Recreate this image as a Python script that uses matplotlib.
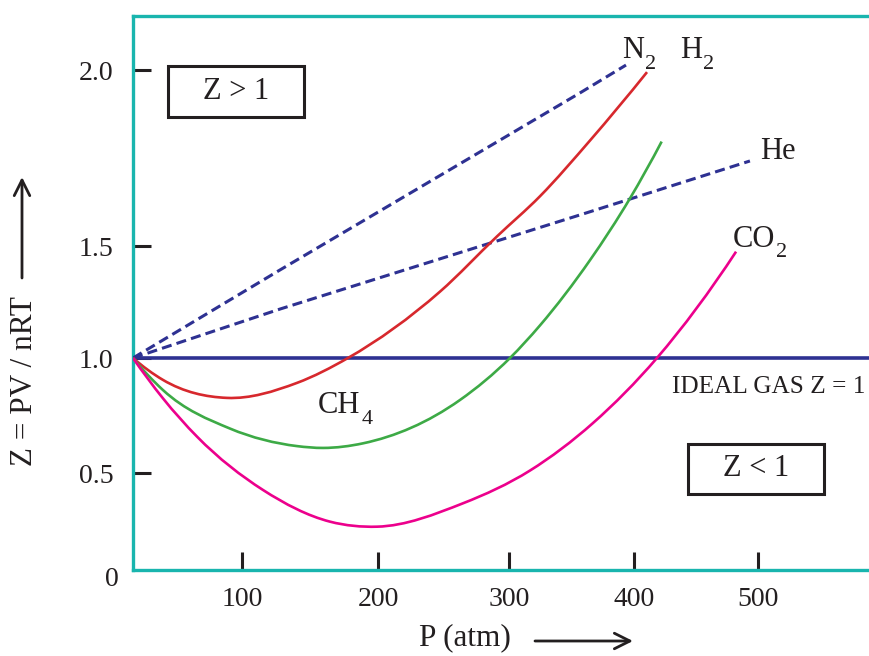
import numpy as np
import matplotlib
matplotlib.use("Agg")
import matplotlib.pyplot as plt
from matplotlib.patches import Rectangle, PathPatch
from matplotlib.path import Path

plt.rcParams['font.family'] = ['Liberation Serif', 'DejaVu Serif']

# ---------------- data ----------------
n2_p = [20, 127.9, 356.8, 393.6]
n2_z = [1.0, 1.394, 1.935, 2.014]

he_p = [20, 127.9, 356.8, 493.5]
he_z = [1.0, 1.219, 1.589, 1.742]

h2_p = [20, 42.0, 89.0, 140.4, 177.9, 247.3, 290.8, 324.8, 364.8, 410.5]
h2_z = [1.0, 0.905, 0.827, 0.892, 1.0, 1.297, 1.528, 1.642, 1.800, 1.994]

ch4_p = [20, 42.0, 91.2, 140.4, 159.6, 189.0, 262.6, 300.8, 324.8, 364.8, 396.8, 422.3]
ch4_z = [1.0, 0.861, 0.694, 0.618, 0.610, 0.630, 0.818, 1.0, 1.146, 1.438, 1.636, 1.797]

co2_p = [20, 42.0, 67.0, 115.4, 164.7, 199.3, 264.9, 316.8, 367.2, 418.5, 482.3]
co2_z = [1.0, 0.825, 0.659, 0.414, 0.250, 0.224, 0.345, 0.512, 0.718, 1.0, 1.476]

ideal_z = 1.0

x_ticks = [100, 200, 300, 400, 500]
x_tick_labels = ['100', '200', '300', '400', '500']
y_ticks = [0.5, 1.0, 1.5, 2.0]
y_tick_labels = ['0.5', '1.0', '1.5', '2.0']

# ---------------- schematic (non-uniform) axis scales ----------------
P_KNOTS = [20, 100, 200, 300, 400, 500, 589.5]
P_POS = [133, 242, 378, 509, 634, 758, 869]
Z_KNOTS = [0, 0.5, 1.0, 1.5, 2.0, 2.1546]
Z_POS = [0, 96.7, 212, 323.7, 500, 554.5]

def fwd_x(v):
    return np.interp(v, P_KNOTS, P_POS)
def inv_x(v):
    return np.interp(v, P_POS, P_KNOTS)
def fwd_y(v):
    return np.interp(v, Z_KNOTS, Z_POS)
def inv_y(v):
    return np.interp(v, Z_POS, Z_KNOTS)

W, H = 869, 656
fig = plt.figure(figsize=(W / 100, H / 100), dpi=100)
ax = fig.add_axes([133 / W, 1 - 570 / H, (869 - 133) / W, (570 - 15.5) / H])
ax.set_xscale('function', functions=(fwd_x, inv_x))
ax.set_yscale('function', functions=(fwd_y, inv_y))
ax.set_xlim(P_KNOTS[0], P_KNOTS[-1])
ax.set_ylim(Z_KNOTS[0], Z_KNOTS[-1])

TEAL = '#19B5AE'
NAVY = '#2E3192'
INK = '#231F20'

for s in ['left', 'top', 'bottom']:
    ax.spines[s].set_color(TEAL)
    ax.spines[s].set_linewidth(2.4)
ax.spines['right'].set_visible(False)

ax.set_xticks(x_ticks)
ax.set_xticklabels(x_tick_labels)
ax.set_yticks(y_ticks)
ax.set_yticklabels(y_tick_labels)
ax.minorticks_off()
ax.tick_params(axis='both', direction='in', length=13, width=2.2, color=INK,
               labelsize=20, labelcolor=INK)
ax.tick_params(axis='y', pad=14)
ax.tick_params(axis='x', pad=12)


def smooth_curve(p, z, color, lw):
    """Smooth cubic-Hermite rendering through the read points, drawn as a Bezier path."""
    X = fwd_x(np.asarray(p, float))
    Y = fwd_y(np.asarray(z, float))
    h = np.diff(X)
    d = np.diff(Y) / h
    n = len(X)
    m = np.empty(n)
    for i in range(1, n - 1):
        m[i] = (h[i] * d[i - 1] + h[i - 1] * d[i]) / (h[i - 1] + h[i])
    m[0] = d[0] + (d[0] - d[1]) * h[0] / (h[0] + h[1])
    m[-1] = d[-1] + (d[-1] - d[-2]) * h[-1] / (h[-1] + h[-2])
    verts = [(X[0], Y[0])]
    codes = [Path.MOVETO]
    for i in range(n - 1):
        verts += [(X[i] + h[i] / 3, Y[i] + m[i] * h[i] / 3),
                  (X[i + 1] - h[i] / 3, Y[i + 1] - m[i + 1] * h[i] / 3),
                  (X[i + 1], Y[i + 1])]
        codes += [Path.CURVE4] * 3
    verts = np.array(verts)
    data = np.column_stack([inv_x(verts[:, 0]), inv_y(verts[:, 1])])
    ax.add_patch(PathPatch(Path(data, codes), fill=False, edgecolor=color, lw=lw,
                           capstyle='butt', joinstyle='round', zorder=4))


# ideal gas line
ax.axhline(ideal_z, color=NAVY, lw=2.6, zorder=2)

dash = (3.3, 1.7)
ax.plot(n2_p, n2_z, color=NAVY, lw=2.2, dashes=dash, zorder=3)
ax.plot(he_p, he_z, color=NAVY, lw=2.2, dashes=dash, zorder=3)
smooth_curve(h2_p, h2_z, '#D7282D', 1.9)
smooth_curve(ch4_p, ch4_z, '#3DAA46', 1.9)
smooth_curve(co2_p, co2_z, '#EC008C', 1.9)


def label(x, z, main, sub=None, size=22):
    t = ax.text(x, z, main, fontsize=size, ha='left', va='baseline', color=INK)
    if sub:
        ax.annotate(sub, xy=(1, 0), xycoords=t, xytext=(1.0, -2.6),
                    textcoords='offset points', fontsize=16, ha='left',
                    va='baseline', color=INK)
    return t


label(390.4, 2.033, 'N', '2')
label(437.1, 2.033, 'H', '2')
label(501.6, 1.747, 'He')
label(479.6, 1.499, 'CO', '2')
label(155.9, 0.760, 'CH', '4')
ax.text(430.6, 0.850, 'IDEAL GAS Z = 1', color=INK, fontsize=18.2, ha='left', va='baseline')

# boxed region labels
AW, AH = 869 - 133, 570 - 15.5
def axfrac(px, py):
    return (px - 133) / AW, (570 - py) / AH

for (x0, y0, x1, y1, txt) in [(168, 66, 304, 117, 'Z > 1'), (688, 444, 824, 494, 'Z < 1')]:
    fx0, fy1 = axfrac(x0, y0)
    fx1, fy0 = axfrac(x1, y1)
    ax.add_patch(Rectangle((fx0, fy0), fx1 - fx0, fy1 - fy0, transform=ax.transAxes,
                           fill=False, ec=INK, lw=2.2, zorder=5))
    cx, cy = axfrac((x0 + x1) / 2, (y0 + y1) / 2)
    ax.text(cx, cy, txt, transform=ax.transAxes, ha='center', va='center',
            fontsize=22, color=INK)

def fpx(x, y):
    return x / W, 1 - y / H

# origin label
fig.text(*fpx(112, 580), '0', ha='center', va='center', fontsize=20, color=INK)

# axis labels with arrows
fig.text(*fpx(25, 381), 'Z = PV / nRT', rotation=90, ha='center', va='center',
         fontsize=22.5, color=INK)
ax.annotate('', xy=fpx(22, 177), xytext=fpx(22, 278), xycoords='figure fraction',
            textcoords='figure fraction',
            arrowprops=dict(arrowstyle='->', lw=2.0, color=INK, mutation_scale=28,
                            shrinkA=0, shrinkB=0))
fig.text(*fpx(465, 638), 'P (atm)', ha='center', va='center', fontsize=22.5, color=INK)
ax.annotate('', xy=fpx(633, 641), xytext=fpx(535, 641), xycoords='figure fraction',
            textcoords='figure fraction',
            arrowprops=dict(arrowstyle='->', lw=2.0, color=INK, mutation_scale=28,
                            shrinkA=0, shrinkB=0))

fig.savefig('out.png', dpi=100)
